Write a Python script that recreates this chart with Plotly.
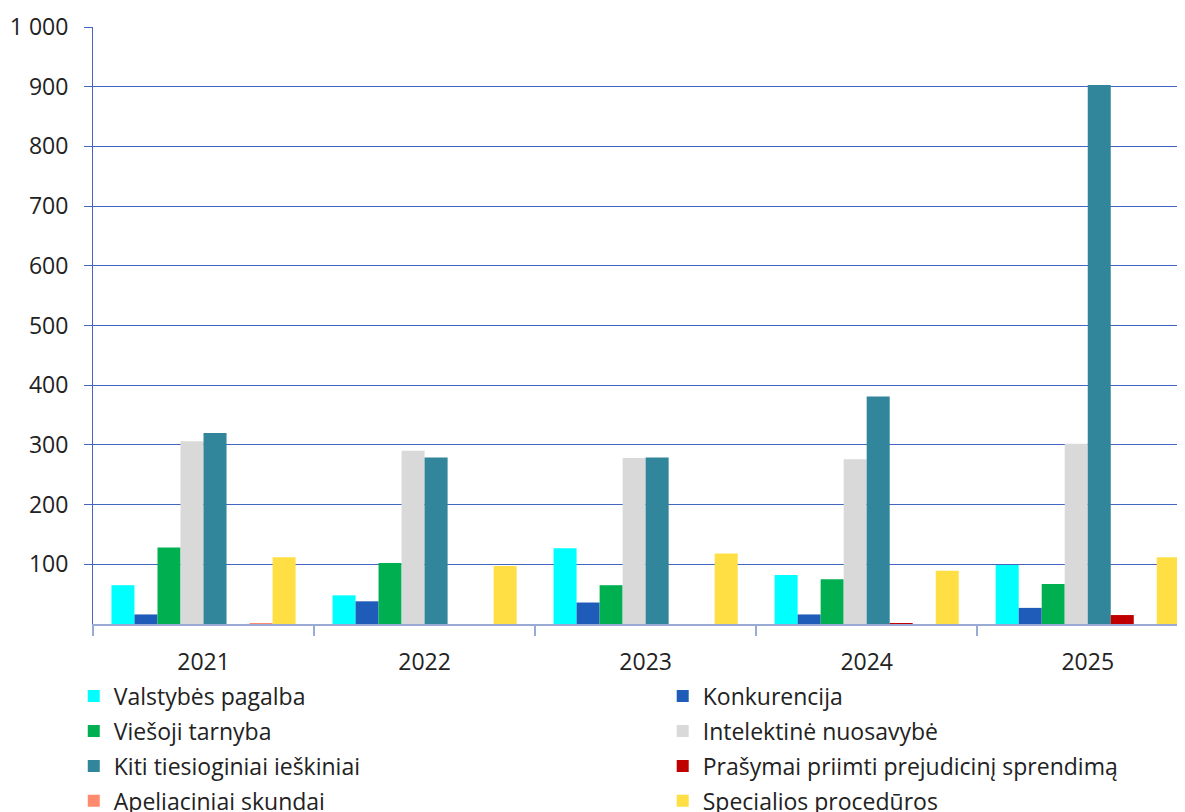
import plotly.graph_objects as go

years = ["2021", "2022", "2023", "2024", "2025"]

valstybes_pagalba = [65, 48, 127, 82, 99]
konkurencija = [16, 38, 36, 16, 27]
viesoji_tarnyba = [128, 102, 65, 75, 67]
intelektine_nuosavybe = [306, 290, 278, 276, 302]
kiti_tiesioginiai = [320, 279, 279, 381, 903]
prasymai_prejudicinis = [0, 0, 0, 1, 15]
apeliaciniai_skundai = [1, 0, 0, 0, 0]
specialios_proceduros = [112, 97, 118, 89, 112]

series_names = [
    "Valstybės pagalba",
    "Konkurencija",
    "Viešoji tarnyba",
    "Intelektinė nuosavybė",
    "Kiti tiesioginiai ieškiniai",
    "Prašymai priimti prejudicinį sprendimą",
    "Apeliaciniai skundai",
    "Specialios procedūros",
]
series_values = [
    valstybes_pagalba,
    konkurencija,
    viesoji_tarnyba,
    intelektine_nuosavybe,
    kiti_tiesioginiai,
    prasymai_prejudicinis,
    apeliaciniai_skundai,
    specialios_proceduros,
]
series_colors = [
    "#00FFFF",
    "#1F5CBA",
    "#00B050",
    "#D9D9D9",
    "#31869B",
    "#C00000",
    "#FF8A6E",
    "#FFDF43",
]

y_tick_values = [100, 200, 300, 400, 500, 600, 700, 800, 900, 1000]
y_tick_labels = ["100", "200", "300", "400", "500", "600", "700", "800", "900", "1 000"]

fig = go.Figure()
for i, (name, vals, col) in enumerate(zip(series_names, series_values, series_colors)):
    fig.add_trace(go.Bar(
        x=years, y=vals, name=name,
        marker=dict(color=col, line=dict(width=0)),
        legend="legend" if i % 2 == 0 else "legend2",
        legendgroup=f"g{i}",
    ))

font_family = "Open Sans, Noto Sans, DejaVu Sans, sans-serif"
FS = 23

legend_common = dict(
    orientation="v", yanchor="top", xanchor="left",
    xref="container", yref="container",
    font=dict(size=FS, color="#222222"),
    traceorder="grouped", tracegroupgap=2,
    itemclick=False, bgcolor="rgba(0,0,0,0)",
)

fig.update_layout(
    width=1185, height=812,
    margin=dict(l=85, r=8, t=19, b=196, autoexpand=False),
    paper_bgcolor="white", plot_bgcolor="white",
    barmode="group", bargap=0.167, bargroupgap=0,
    font=dict(family=font_family, size=FS, color="#222222"),
    showlegend=True,
    legend=dict(x=0.0555, y=0.179, **legend_common),
    legend2=dict(x=0.5525, y=0.179, **legend_common),
    xaxis=dict(
        range=[-0.5, 4.44],
        showline=True, linecolor="#9AAAD6", linewidth=1.5,
        ticks="outside", tickson="boundaries", ticklen=10, tickcolor="#9AAAD6", tickwidth=1.5,
        showgrid=False, zeroline=False,
        tickfont=dict(size=FS, color="#222222"),
        ticklabelstandoff=17,
    ),
    yaxis=dict(
        range=[0, 1000],
        tickvals=y_tick_values, ticktext=y_tick_labels,
        showline=True, linecolor="#4266C0", linewidth=1,
        ticks="outside", ticklen=8, tickcolor="#4266C0",
        showgrid=True, gridcolor="#4266C0", gridwidth=1,
        zeroline=False,
        tickfont=dict(size=FS, color="#222222"),
        ticklabelstandoff=11,
    ),
)

fig.write_html("out.html")
